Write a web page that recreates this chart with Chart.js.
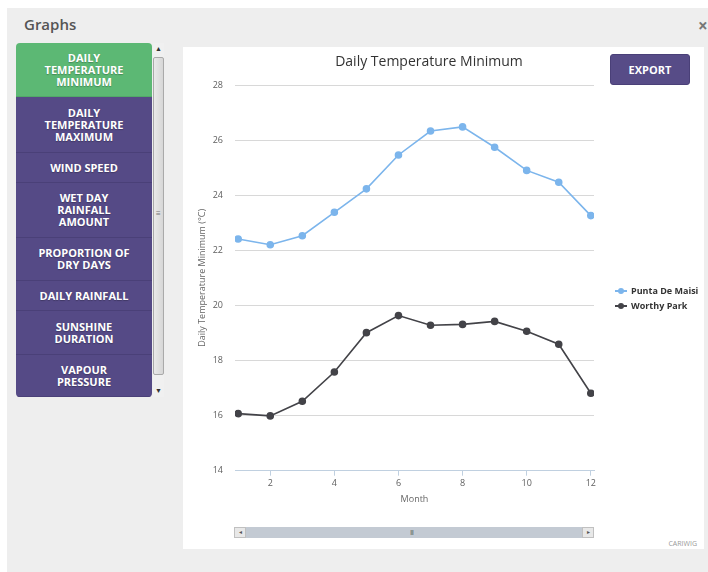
<!DOCTYPE html>
<html>
<head>
<meta charset="utf-8">
<title>Daily Temperature Minimum</title>
<script src="https://cdn.jsdelivr.net/npm/chart.js@4.4.1/dist/chart.umd.min.js"></script>
<style>
  html, body { margin: 0; padding: 0; background: #fff; }
  body { width: 708px; height: 572px; position: relative; overflow: hidden; font-family: "Open Sans", sans-serif; }
  .panel { position: absolute; left: 7px; top: 8px; width: 701px; height: 564px; background: #eeeeee; }
  .heading { position: absolute; left: 24px; top: 14px; font-size: 15px; font-weight: 600; color: #555; }
  .close { position: absolute; left: 698px; top: 14px; font-size: 17px; font-weight: bold; color: #777; }
  .menu { position: absolute; left: 16px; top: 43px; width: 136px; border-radius: 4px; overflow: hidden; }
  .menu div { display: flex; align-items: center; justify-content: center; text-align: center; box-sizing: border-box;
              background: #554a86; color: #fff; font-size: 11px; font-weight: bold; line-height: 12px;
              border-bottom: 1px solid #4a4078; text-shadow: 0 1px 1px rgba(0,0,0,0.25); }
  .menu div.active { background: #5cb874; border-bottom-color: #52a868; }
  .vscroll { position: absolute; left: 153px; top: 43px; width: 11px; height: 354px; background: #f0f0f0; }
  .vscroll .thumb { position: absolute; left: 0; top: 14px; width: 9px; height: 316px; border: 1px solid #a9a9a9; border-radius: 2px;
                    background: linear-gradient(to right, #e9e9e9, #d6d6d6); }
  .vscroll .arr { position: absolute; left: 2px; font-size: 7px; color: #333; line-height: 8px; }
  .vscroll .grip { position: absolute; left: 3px; top: 166px; font-size: 8px; color: #777; line-height: 8px; }
  .chartbox { position: absolute; left: 183px; top: 47px; width: 521px; height: 502px; background: #fff; }
  #chart { position: absolute; left: 0; top: 0; }
  .export { position: absolute; left: 427px; top: 7px; width: 80px; height: 31px; box-sizing: border-box; background: #574c87;
            border: 1px solid #4a4078; border-radius: 3px; color: #fff; font-size: 11px; font-weight: bold;
            display: flex; align-items: center; justify-content: center; }
  #legend { position: absolute; left: 432px; top: 236px; }
  #legend .item { height: 15px; display: flex; align-items: center; font-size: 9px; font-weight: bold; color: #333; white-space: nowrap; }
  #legend .sym { position: relative; width: 12px; height: 8px; margin-right: 4px; }
  #legend .sym .ln { position: absolute; left: 0; top: 3px; width: 12px; height: 2px; }
  #legend .sym .dot { position: absolute; left: 3px; top: 1px; width: 6px; height: 6px; border-radius: 50%; }
  .hscroll { position: absolute; left: 51px; top: 480px; width: 360px; height: 11px; background: #c3cad3; }
  .hscroll .btn { position: absolute; top: 0; width: 10px; height: 9px; background: #e8e8e8; border: 1px solid #c0c0c0;
                  font-size: 6px; line-height: 9px; text-align: center; color: #555; }
  .hscroll .grip { position: absolute; left: 176px; top: 1px; font-size: 7px; line-height: 9px; color: #666; letter-spacing: -1px; }
  .credit { position: absolute; right: 7px; top: 492px; font-size: 7px; color: #999; }
</style>
</head>
<body>
<div class="panel"></div>
<div class="heading">Graphs</div>
<div class="close">×</div>

<div class="menu" id="menu"></div>
<div class="vscroll">
  <div class="arr" style="top:2px">▲</div>
  <div class="thumb"></div>
  <div class="grip">≡</div>
  <div class="arr" style="top:344px">▼</div>
</div>

<div class="chartbox">
  <canvas id="chart" width="492" height="463"></canvas>
  <div class="export">EXPORT</div>
  <div id="legend"></div>
  <div class="hscroll">
    <div class="btn" style="left:0">◂</div>
    <div class="grip">III</div>
    <div class="btn" style="right:0">▸</div>
  </div>
  <div class="credit">CARIWIG</div>
</div>

<script>
// sidebar
const menuItems = ["DAILY<br>TEMPERATURE<br>MINIMUM", "DAILY<br>TEMPERATURE<br>MAXIMUM", "WIND SPEED",
    "WET DAY<br>RAINFALL<br>AMOUNT", "PROPORTION OF<br>DRY DAYS", "DAILY RAINFALL",
    "SUNSHINE<br>DURATION", "VAPOUR<br>PRESSURE"];
const menuHeights = [54, 56, 30, 55, 43, 30, 44, 42];

// chart data
const months = [1, 2, 3, 4, 5, 6, 7, 8, 9, 10, 11, 12];
const monthTicks = [2, 4, 6, 8, 10, 12];
const puntaDeMaisi = [22.41, 22.20, 22.53, 23.38, 24.23, 25.46, 26.33, 26.48, 25.74, 24.90, 24.47, 23.26];
const worthyPark = [16.07, 15.99, 16.52, 17.58, 19.01, 19.63, 19.28, 19.31, 19.42, 19.06, 18.59, 16.81];
const seriesNames = ["Punta De Maisi", "Worthy Park"];
const seriesColors = ["#7cb5ec", "#434348"];

const menu = document.getElementById("menu");
menuItems.forEach((txt, i) => {
    const d = document.createElement("div");
    d.innerHTML = txt;
    d.style.height = menuHeights[i] + "px";
    if(i == 0) d.className = "active";
    menu.appendChild(d);
});

Chart.defaults.font.family = "'Open Sans', sans-serif";

const toPoints = (vals) => months.map((m, i) => ({x: m, y: vals[i]}));

const ctx = document.getElementById("chart");
const chart = new Chart(ctx, {
    type: "line",
    data: {
        datasets: [puntaDeMaisi, worthyPark].map((vals, i) => ({
            label: seriesNames[i],
            data: toPoints(vals),
            borderColor: seriesColors[i],
            backgroundColor: seriesColors[i],
            borderWidth: 1.6,
            pointRadius: 3,
            pointHoverRadius: 3,
            tension: 0,
            fill: false
        }))
    },
    options: {
        responsive: false,
        animation: false,
        devicePixelRatio: 1,
        layout: {padding: 0},
        plugins: {
            legend: {display: false},
            tooltip: {enabled: false},
            title: {
                display: true,
                text: "Daily Temperature Minimum",
                color: "#333",
                font: {size: 14, weight: "normal"},
                padding: {top: 6.4, bottom: 14.8}
            }
        },
        scales: {
            x: {
                type: "linear",
                min: 0.9,
                max: 12.1,
                afterBuildTicks: (s) => { s.ticks = monthTicks.map(v => ({value: v})); },
                afterFit: (s) => { s.height = 39.3; },
                grid: {drawOnChartArea: false, drawTicks: true, tickLength: 5, color: "#c0d0e0"},
                border: {color: "#c0d0e0", width: 1},
                ticks: {color: "#606060", font: {size: 9}, padding: 2, maxRotation: 0, autoSkip: false},
                title: {display: true, text: "Month", color: "#666", font: {size: 9}, padding: {top: 0, bottom: 4.9}}
            },
            y: {
                min: 14,
                max: 28,
                afterFit: (s) => { s.width = 52; },
                grid: {color: "#d8d8d8", drawTicks: false},
                border: {display: false},
                ticks: {stepSize: 2, color: "#606060", font: {size: 9}, padding: 12},
                title: {display: true, text: "Daily Temperature Minimum (°C)", color: "#666", font: {size: 9}, padding: {top: 14.3, bottom: 0}}
            },
            pad: {
                position: "right",
                afterFit: (s) => { s.width = 81; },
                grid: {display: false},
                border: {display: false},
                ticks: {display: false}
            }
        }
    }
});

// legend built from the chart's datasets
const legend = document.getElementById("legend");
chart.data.datasets.forEach((ds) => {
    const item = document.createElement("div");
    item.className = "item";
    item.innerHTML = '<span class="sym"><span class="ln" style="background:' + ds.borderColor + '"></span>' +
        '<span class="dot" style="background:' + ds.borderColor + '"></span></span>' + ds.label;
    legend.appendChild(item);
});
</script>
</body>
</html>
